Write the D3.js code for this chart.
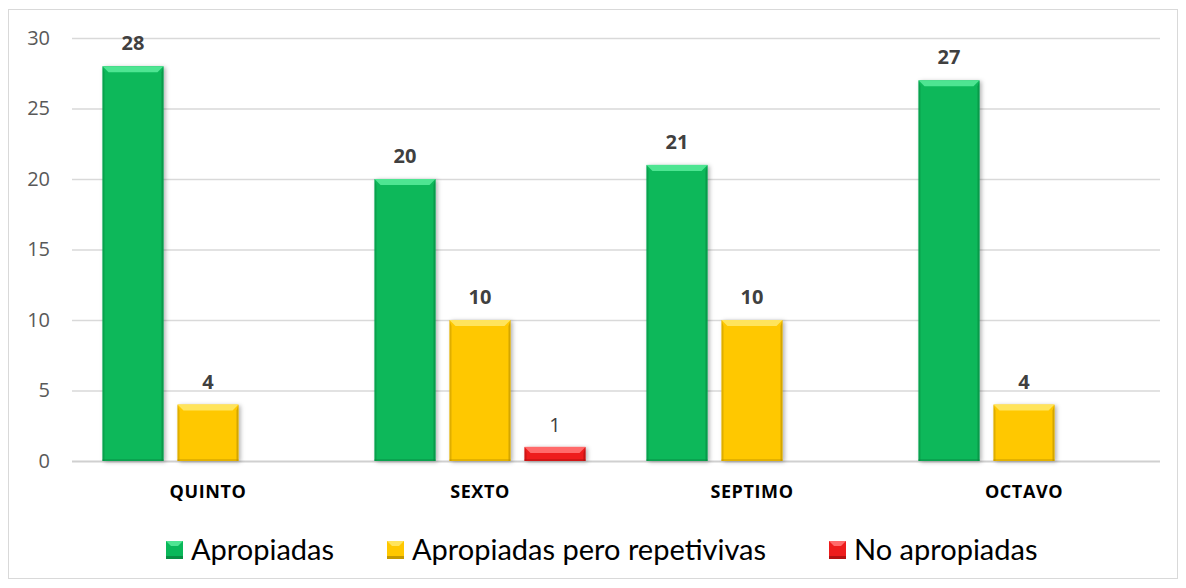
<!DOCTYPE html>
<html><head><meta charset="utf-8">
<script src="https://cdn.jsdelivr.net/npm/d3@7"></script>
<style>body{margin:0;background:#fff;}</style>
</head><body>
<svg id="c" width="1186" height="588"></svg>
<script>
const categories = ["QUINTO", "SEXTO", "SEPTIMO", "OCTAVO"];
const seriesNames = ["Apropiadas", "Apropiadas pero repetivivas", "No apropiadas"];
const apropiadas = [28, 20, 21, 27];
const repetitivas = [4, 10, 10, 4];
const noApropiadas = [0, 1, 0, 0];
const yTicks = [0, 5, 10, 15, 20, 25, 30];
const colors = ["#0ab85a", "#ffc800", "#ee1c1c"];
const lightColors = ["#4ee592", "#ffe45c", "#ff6a6a"];
const darkColors = ["#07853f", "#b88f00", "#a50f0f"];

(function(){
const svg = d3.select("#c");
const defs = svg.append("defs");
const f = defs.append("filter").attr("id","sh").attr("x","-20%").attr("y","-20%").attr("width","150%").attr("height","150%");
f.append("feDropShadow").attr("dx",2).attr("dy",1).attr("stdDeviation",2).attr("flood-color","#000").attr("flood-opacity",0.3);

svg.append("rect").attr("x",8.5).attr("y",9.5).attr("width",1169).attr("height",569)
  .attr("fill","#fff").attr("stroke","#d9d9d9").attr("stroke-width",1);

const mLeft = 72, mRight = 1160, mTop = 38, mBottom = 461;
const x0 = d3.scaleBand().domain(categories).range([mLeft, mRight]).padding(0);
const y = d3.scaleLinear().domain([0, 30]).range([mBottom, mTop]);
const barW = 61, gap = 14;
const x1 = d3.scaleBand().domain(d3.range(3)).range([0, barW*3 + gap*2]).paddingInner(gap/(barW+gap)).paddingOuter(0);

svg.append("g").selectAll("line").data(yTicks.filter(d=>d>0)).join("line")
  .attr("x1", mLeft).attr("x2", mRight).attr("y1", d=>y(d)+0.5).attr("y2", d=>y(d)+0.5)
  .attr("stroke","#d9d9d9").attr("stroke-width",1.3);
svg.append("line").attr("x1",mLeft).attr("x2",mRight).attr("y1",y(0)+0.5).attr("y2",y(0)+0.5)
  .attr("stroke","#d0d0d0").attr("stroke-width",2);

const yAxis = d3.axisLeft(y).tickValues(yTicks).tickSize(0).tickPadding(0);
const gy = svg.append("g").attr("transform",`translate(${mLeft-22},0)`).call(yAxis);
gy.select(".domain").remove();
gy.selectAll("text").attr("font-family","'Open Sans', sans-serif").attr("font-size",20).attr("fill","#595959");

const xAxis = d3.axisBottom(x0).tickSize(0).tickPadding(0);
const gx = svg.append("g").attr("transform",`translate(0,${mBottom+24})`).call(xAxis);
gx.select(".domain").remove();
gx.selectAll("text").attr("font-family","'Open Sans', sans-serif").attr("font-size",18)
  .attr("letter-spacing","0.6px").attr("font-weight","bold").attr("fill","#000");

const series = [apropiadas, repetitivas, noApropiadas];
const data = [];
categories.forEach((c, i) => series.forEach((s, j) => data.push({c, j, v: s[i]})));

const bw = x1.bandwidth();
const bars = svg.append("g").selectAll("g").data(data.filter(d=>d.v>0)).join("g")
  .attr("transform", d => `translate(${x0(d.c) + (x0.bandwidth() - (barW*3+gap*2))/2 + x1(d.j)},${y(d.v)})`);
bars.append("rect").attr("width", bw).attr("height", d => y(0)-y(d.v))
  .attr("fill", d => colors[d.j]).attr("filter","url(#sh)");
bars.append("path").attr("d", d => {
  const h = Math.min(6, (y(0)-y(d.v))/2);
  return `M0,0 L${bw},0 L${bw-h},${h} L${h},${h} Z`;
}).attr("fill", d => lightColors[d.j]);
bars.append("path").attr("d", d => {
  const H = y(0)-y(d.v), h = Math.min(6, H/2), s = 2;
  return `M0,0 L${s},${h} L${s},${H} L0,${H} Z`;
}).attr("fill", d => darkColors[d.j]).attr("opacity",0.45);
bars.append("path").attr("d", d => {
  const H = y(0)-y(d.v), h = Math.min(6, H/2), s = 2;
  return `M${bw},0 L${bw-s},${h} L${bw-s},${H} L${bw},${H} Z`;
}).attr("fill", d => darkColors[d.j]).attr("opacity",0.6);
bars.append("rect").attr("y", d => y(0)-y(d.v)-2).attr("width", bw).attr("height", 2)
  .attr("fill", d => darkColors[d.j]).attr("opacity",0.4);

bars.append("text").attr("x", bw/2).attr("y", d => d.j === 2 ? -15 : -16).attr("text-anchor","middle")
  .attr("font-family","'Open Sans', sans-serif").attr("font-size",20)
  .attr("font-weight", d => d.j === 2 ? "normal" : "bold")
  .attr("fill","#404040").text(d => d.v);

const legendX = [166, 387, 829];
const lg = svg.append("g").selectAll("g").data(seriesNames).join("g")
  .attr("transform", (d,i) => `translate(${legendX[i]},${541})`);
lg.append("rect").attr("width",17).attr("height",18).attr("fill",(d,i)=>colors[i]);
lg.append("path").attr("d","M0,0 L17,0 L12,5 L5,5 Z").attr("fill",(d,i)=>lightColors[i]);
lg.append("rect").attr("y",15).attr("width",17).attr("height",3).attr("fill",(d,i)=>darkColors[i]).attr("opacity",0.8);
lg.append("text").attr("x",25).attr("y",19).attr("font-family","Lato, 'Open Sans', sans-serif")
  .attr("font-size",29).attr("fill","#000").text(d=>d);
})();
</script>
</body></html>
